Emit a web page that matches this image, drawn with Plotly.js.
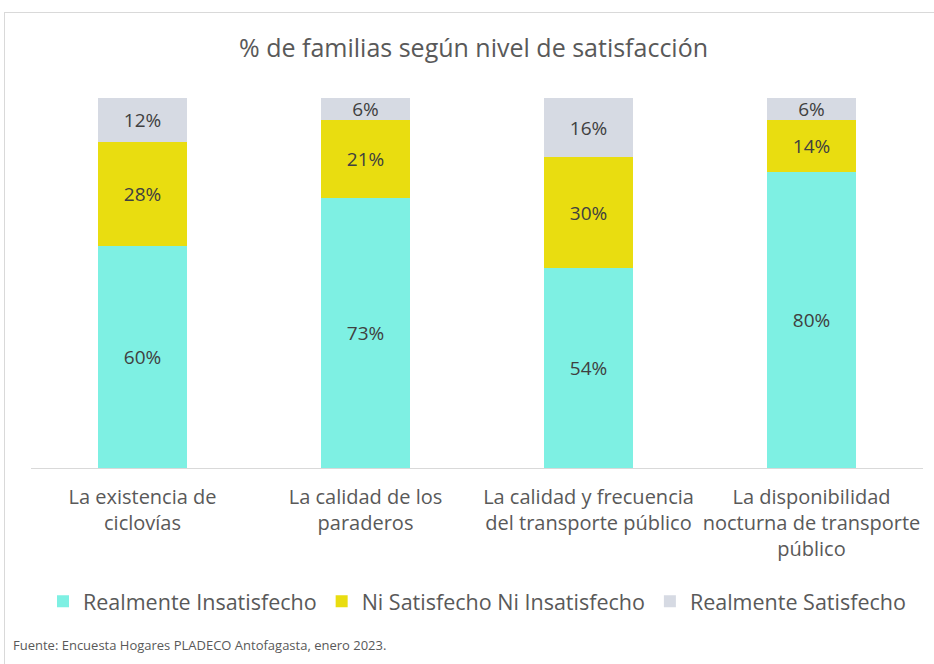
<!DOCTYPE html>
<html><head><meta charset="utf-8">
<script src="https://cdn.plot.ly/plotly-3.0.1.min.js"></script>
<style>body{margin:0;background:#fff}#wrap{position:relative;width:934px;height:664px}
#frame{position:absolute;left:4px;top:12px;width:940px;height:700px;border:1px solid #d9d9d9;pointer-events:none}</style>
</head><body><div id="wrap"><div id="chart" style="width:934px;height:664px"></div><div id="frame"></div></div>
<script>
const categories = ["La existencia de<br>ciclovías", "La calidad de los<br>paraderos", "La calidad y frecuencia<br>del transporte público", "La disponibilidad<br>nocturna de transporte<br>público"];
const insatisfecho = [60, 73, 54, 80];
const neutral = [28, 21, 30, 14];
const satisfecho = [12, 6, 16, 6];
const seriesNames = ["Realmente Insatisfecho", "Ni Satisfecho Ni Insatisfecho", "Realmente Satisfecho"];
const colors = ["#7EF0E3", "#E9DD10", "#D6DAE3"];
const FONT = "'Open Sans', Lato, sans-serif";
const mk = (y, i) => ({type:'bar', x:categories, y:y, name:seriesNames[i], marker:{color:colors[i]},
  texttemplate:'%{y}%', textposition:'inside', insidetextanchor:'middle', constraintext:'none',
  textfont:{size:19, color:'#404040', family:FONT}, hoverinfo:'skip'});
const data = [mk(insatisfecho,0), mk(neutral,1), mk(satisfecho,2)];
const layout = {
  barmode:'stack', bargap:0.6, width:934, height:664,
  margin:{l:31, r:11, t:98, b:196},
  paper_bgcolor:'#fff', plot_bgcolor:'#fff',
  font:{family:FONT, color:'#595959', size:19},
  title:{text:'% de familias según nivel de satisfacción', x:0.507, xanchor:'center', y:0.928, yanchor:'middle', font:{size:25, color:'#595959', family:FONT}},
  xaxis:{showline:true, linecolor:'#d9d9d9', linewidth:1, ticks:'', ticklabelstandoff:11, tickfont:{size:20, color:'#595959'}, fixedrange:true},
  yaxis:{range:[0,100], visible:false, fixedrange:true},
  showlegend:true,
  legend:{orientation:'h', x:0.5, xanchor:'center', y:-0.36, yanchor:'middle', font:{size:21.5, color:'#595959'}, traceorder:'normal', itemwidth:20},
  annotations:[{text:'Fuente: Encuesta Hogares PLADECO Antofagasta, enero 2023.', xref:'paper', yref:'paper', x:-0.022, xanchor:'left', y:-0.478, yanchor:'middle', showarrow:false, font:{size:13, color:'#595959', family:FONT}}]
};
Plotly.newPlot('chart', data, layout, {displayModeBar:false, staticPlot:true});
</script></body></html>
